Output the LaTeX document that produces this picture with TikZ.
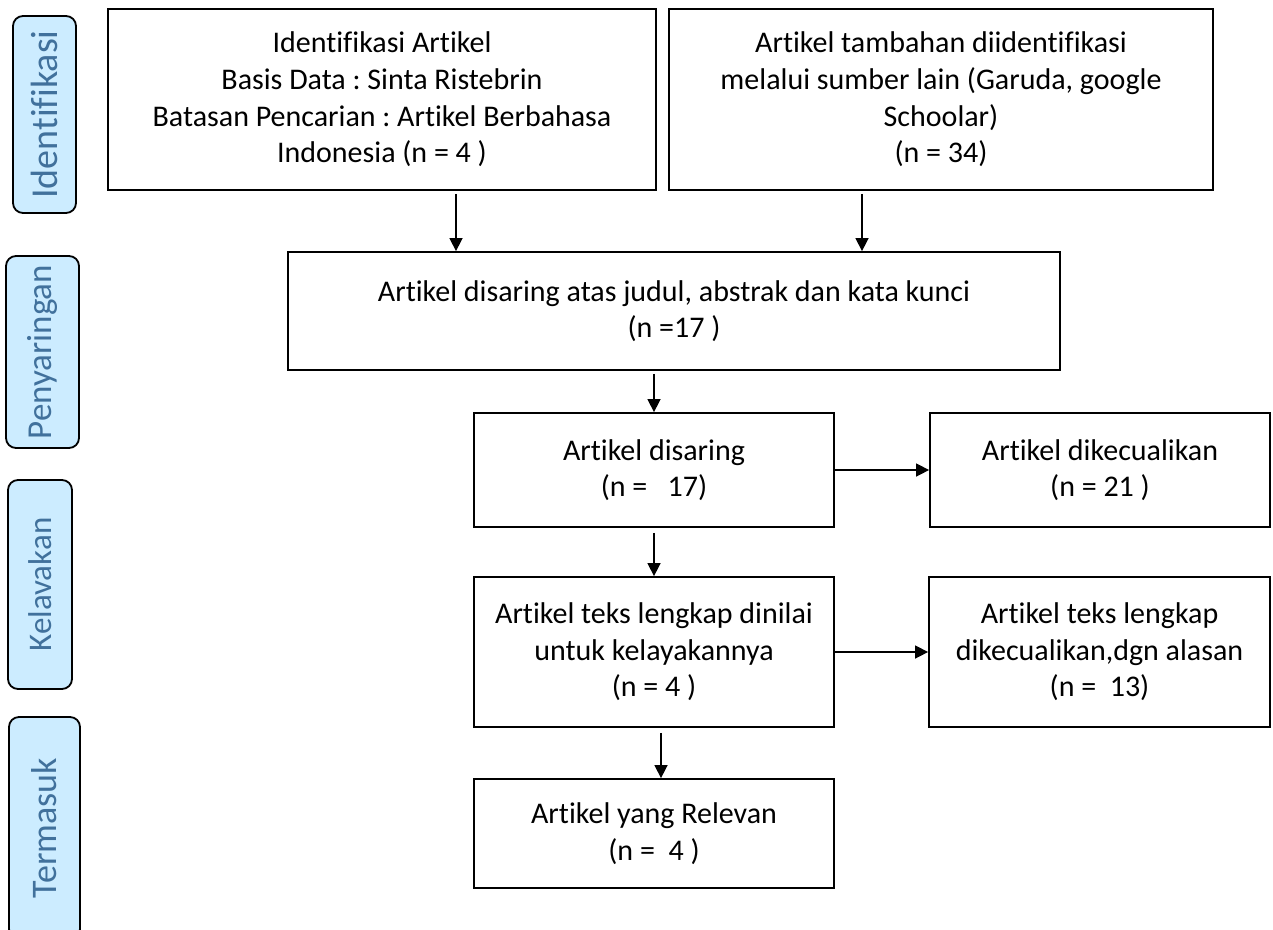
\documentclass[tikz,border=0pt]{standalone}
\usepackage{fontspec}
\setmainfont{Carlito}[Ligatures=NoCommon]
\usetikzlibrary{arrows.meta}

\definecolor{labelfill}{RGB}{204,236,255}
\definecolor{labeltext}{RGB}{65,113,156}

\begin{document}
\frenchspacing
\begin{tikzpicture}[x=1pt,y=-1pt,
    box/.style={draw,line width=1.8pt,rectangle,align=center,
        font=\fontsize{30}{36.6}\selectfont},
    stage/.style={draw,line width=1.8pt,rounded corners=10pt,fill=labelfill,
        text=labeltext,rotate=90},
    flow/.style={-{Triangle[length=13pt,width=13pt]},line width=1.5pt}]
            \useasboundingbox (0,0) rectangle (1273,929);

            % stage labels on the left
            \node[stage,minimum width=197,minimum height=63,font=\fontsize{38}{40}\selectfont] (Identifikasi) at (44.5,114.5) {Identifikasi};
            \node[stage,minimum width=192,minimum height=73,font=\fontsize{35}{38}\selectfont] (Penyaringan) at (42.5,352) {Penyaringan};
            \node[stage,minimum width=209,minimum height=64,font=\fontsize{33}{36}\selectfont] (Kelavakan) at (40,584.5) {Kelavakan};
            \node[stage,minimum width=222,minimum height=71,font=\fontsize{36}{40}\selectfont] (Termasuk) at (44.5,828) {Termasuk};

            % flow boxes
            \node[box,minimum width=548,minimum height=181] (Sinta) at (382,99.5) {Identifikasi Artikel\\
                Basis Data : Sinta Ristebrin\\
                Batasan Pencarian : Artikel Berbahasa\\
                Indonesia (n = 4 )};
            \node[box,minimum width=544,minimum height=181] (Lain) at (941,99.5) {Artikel tambahan diidentifikasi\\
                melalui sumber lain (Garuda, google\\
                Schoolar)\\
                (n = 34)};
            \node[box,minimum width=772,minimum height=118] (Judul) at (674,311) {Artikel disaring atas judul, abstrak dan kata kunci\\
                (n =17 )};
            \node[box,minimum width=360,minimum height=114] (Disaring) at (654,470) {Artikel disaring\\
                (n =\ \ \ 17)};
            \node[box,minimum width=340,minimum height=114] (Kecuali) at (1100,470) {Artikel dikecualikan\\
                (n = 21 )};
            \node[box,minimum width=360,minimum height=150] (Dinilai) at (654,652) {Artikel teks lengkap dinilai\\
                untuk kelayakannya\\
                (n = 4 )};
            \node[box,minimum width=341,minimum height=150] (Alasan) at (1099.5,652) {Artikel teks lengkap\\
                dikecualikan,dgn alasan\\
                (n =\ \ 13)};
            \node[box,minimum width=360,minimum height=109] (Relevan) at (654,833.5) {Artikel yang Relevan\\
                (n =\ \ 4 )};

            \coordinate (SintaX) at (456,0);
            \coordinate (LainX) at (862,0);
            \coordinate (RelevanX) at (661,0);

            \draw[flow,shorten <=3pt] (Sinta.south -| SintaX) -- (Judul.north -| SintaX);
            \draw[flow,shorten <=3pt] (Lain.south -| LainX) -- (Judul.north -| LainX);
            \draw[flow,shorten <=3pt] (Judul.south -| Disaring.north) -- (Disaring.north);
            \draw[flow] (Disaring.east) -- (Kecuali.west);
            \draw[flow,shorten <=5pt] (Disaring.south) -- (Dinilai.north);
            \draw[flow] (Dinilai.east) -- (Alasan.west);
            \draw[flow,shorten <=5pt] (Dinilai.south -| RelevanX) -- (Relevan.north -| RelevanX);
        \end{tikzpicture}
\end{document}
